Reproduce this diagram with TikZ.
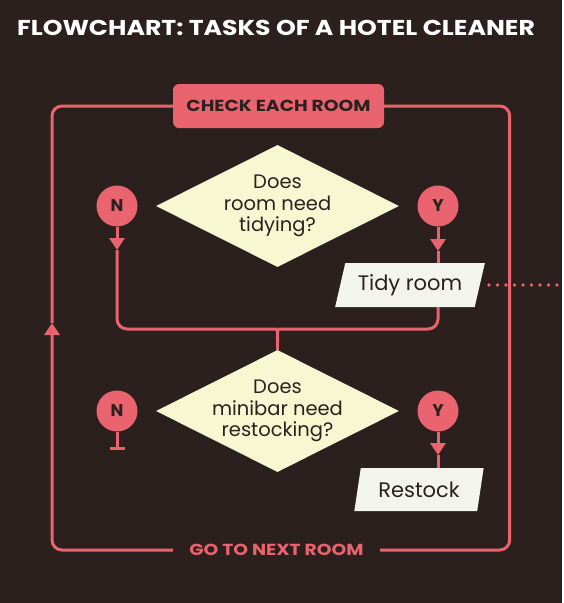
\documentclass[tikz,border=0pt]{standalone}
\usepackage{fontspec}
\setmainfont{Poppins}
\newfontfamily\widecaps[FakeStretch=1.17]{Poppins}
\usetikzlibrary{shapes.geometric,arrows.meta}
\definecolor{bgbrown}{RGB}{43,32,29}
\definecolor{rosepink}{RGB}{233,100,111}
\definecolor{cream}{RGB}{247,247,210}
\definecolor{paper}{RGB}{244,244,238}
\definecolor{ink}{RGB}{42,34,32}
\tikzset{
  flow/.style={rosepink,line width=3pt},
  headtip/.style={-{Triangle[width=15pt,length=12pt]}},
  decision/.style={diamond,fill=cream,text=ink,minimum width=243pt,minimum height=122pt,
    inner xsep=-14pt,inner ysep=-8pt,aspect=2,align=center,font=\fontsize{19.5}{21.5}\selectfont},
  answer/.style={circle,fill=rosepink,text=ink,minimum size=41pt,inner sep=0pt,
    font=\fontsize{17}{17}\selectfont\bfseries},
  task/.style={trapezium,trapezium stretches=true,fill=paper,text=ink,minimum height=44pt,
    inner sep=0pt,font=\fontsize{21}{21}\selectfont},
  caption/.style={rosepink,font=\widecaps\fontsize{16}{16}\selectfont\bfseries,inner sep=0pt}
}
\begin{document}
\begin{tikzpicture}[x=1pt,y=-1pt]
\fill[bgbrown] (0,0) rectangle (562,603);
\node[anchor=base,text=white,font=\widecaps\fontsize{21.5}{21.5}\selectfont\bfseries] (title) at (276,35)
  {FLOWCHART: TASKS OF A HOTEL CLEANER};
\node[caption,fill=rosepink,text=ink,rounded corners=6pt,minimum width=211pt,minimum height=44pt]
  (check) at (278.5,106) {CHECK EACH ROOM};
\node[caption,minimum width=207pt,minimum height=20pt] (next) at (276.5,550) {GO TO NEXT ROOM};
\node[decision] (room) at (277.5,206) {Does\\room need\\tidying?};
\node[decision] (minibar) at (277.5,411) {Does\\minibar need\\restocking?};
\foreach \name/\x/\y/\t in {n1/117/206/N, y1/438/206/Y, n2/117/411/N, y2/438/411/Y}
\node[answer] (\name) at (\x,\y) {\t};
\node[task,trapezium left angle=69,trapezium right angle=111,minimum width=150pt]
  (tidy) at (410,285) {Tidy room};
\node[task,trapezium left angle=74,trapezium right angle=106,minimum width=130pt,minimum height=43pt]
  (restock) at (419,489.5) {Restock};
\coordinate (loopup) at (52,323);
\coordinate (n1tip) at (117,250);
\coordinate (y1tip) at (438,251);
\coordinate (y2tip) at (438,455);
\coordinate (n2end) at (117,450);
\coordinate (merge) at (277.5,341);
\coordinate (tidyout) at (562,285);
\draw[flow,rounded corners=10pt,headtip] (next.west) -| (loopup);
\draw[flow,rounded corners=10pt] (loopup) |- (check.west);
\draw[flow,rounded corners=10pt] (check.east) -- ++(125.5,0) |- (next.east);
\draw[flow,headtip] (n1.south) -- (n1tip);
\draw[flow,rounded corners=10pt] (n1tip) |- (264.5,329) .. controls (277.5,329) .. (merge);
\draw[flow] (merge) -- (minibar.north);
\draw[flow,headtip] (y1.south) -- (y1tip);
\draw[flow] (y1tip) -- (y1tip |- tidy.north);
\draw[flow,rounded corners=10pt] (tidy.south -| y1) |- (290.5,329) .. controls (277.5,329) .. (merge);
\draw[flow,-{Bar[width=15pt]}] (n2.south) -- (n2end);
\draw[flow,headtip] (y2.south) -- (y2tip);
\draw[flow] (y2tip) -- (y2tip |- restock.north);
\draw[rosepink,line width=3.8pt,line cap=round,dash pattern=on 0pt off 8.5pt]
  ([xshift=9pt]tidy.east) -- (tidyout);
\end{tikzpicture}
\end{document}
